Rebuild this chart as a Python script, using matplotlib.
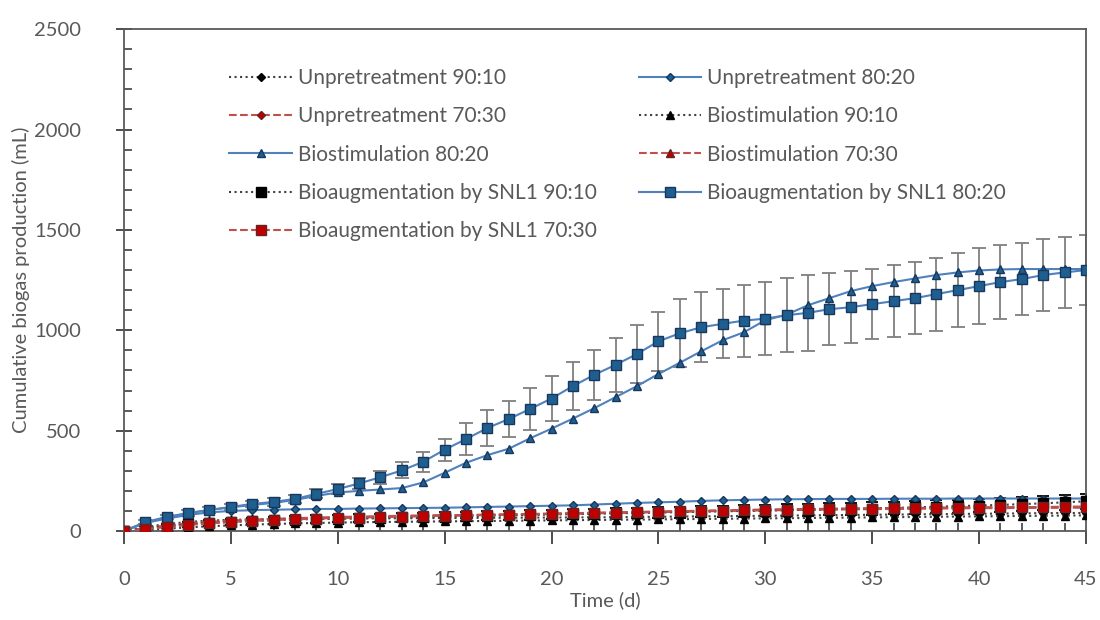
import numpy as np
import matplotlib
matplotlib.use("Agg")
import matplotlib.pyplot as plt
from matplotlib.ticker import MultipleLocator

plt.rcParams['font.family'] = ['Lato', 'DejaVu Sans']

days = list(range(46))

# cumulative biogas (mL), one list per treatment / ratio
unpre_90 = [0, 20, 35, 45, 52, 56, 58, 60, 61, 62, 62, 63, 63, 64, 64, 65, 65, 66, 66, 67, 67, 68,
            68, 69, 70, 71, 72, 73, 74, 75, 76, 77, 78, 79, 80, 81, 82, 83, 84, 85, 86, 87, 88, 89, 90, 90]
unpre_80 = [0, 40, 62, 80, 93, 100, 104, 106, 108, 110, 110, 112, 113, 114, 115, 116, 118, 120, 122,
            124, 126, 128, 132, 136, 140, 143, 146, 150, 153, 155, 157, 158, 159, 160, 160, 160, 161,
            161, 161, 162, 162, 162, 162, 162, 162, 162]
unpre_70 = [0, 15, 28, 38, 46, 52, 57, 61, 64, 67, 70, 72, 74, 76, 78, 79, 80, 82, 83, 85, 87, 89,
            91, 93, 95, 97, 99, 101, 103, 105, 107, 108, 110, 111, 112, 113, 114, 115, 116, 117, 118,
            118, 119, 119, 120, 120]
bios_90 = [0, 5, 12, 18, 24, 28, 32, 35, 38, 40, 42, 44, 45, 46, 47, 48, 49, 50, 51, 52, 53, 54, 55,
           56, 57, 58, 59, 60, 61, 62, 63, 64, 65, 66, 67, 68, 69, 70, 71, 72, 73, 74, 75, 76, 77, 78]
bios_80 = [0, 42, 68, 88, 105, 118, 130, 140, 155, 175, 192, 200, 207, 214, 242, 290, 340, 378, 410,
           462, 510, 560, 612, 667, 722, 782, 838, 895, 950, 990, 1050, 1078, 1125, 1160, 1195, 1220,
           1240, 1258, 1275, 1288, 1298, 1303, 1305, 1305, 1305, 1305]
bios_70 = [0, 12, 24, 34, 42, 48, 53, 57, 61, 64, 67, 69, 71, 73, 75, 77, 78, 80, 81, 83, 85, 86, 88,
           90, 92, 94, 96, 98, 100, 101, 103, 104, 106, 107, 108, 109, 110, 111, 112, 113, 114, 114,
           115, 115, 116, 116]
bioa_90 = [0, 15, 25, 33, 40, 45, 50, 54, 57, 60, 62, 64, 66, 68, 70, 72, 74, 76, 78, 80, 82, 84, 86,
           88, 90, 92, 94, 96, 98, 100, 102, 104, 106, 108, 110, 112, 115, 118, 121, 124, 127, 130,
           134, 138, 143, 148]
bioa_80 = [0, 45, 70, 90, 105, 120, 135, 145, 160, 185, 209, 237, 268, 302, 345, 405, 458, 513, 558,
           608, 660, 722, 778, 828, 882, 945, 985, 1015, 1032, 1048, 1058, 1075, 1087, 1105, 1115,
           1130, 1145, 1160, 1180, 1200, 1220, 1240, 1255, 1275, 1288, 1300]
bioa_70 = [0, 10, 20, 30, 38, 45, 50, 55, 58, 62, 65, 67, 70, 72, 74, 76, 78, 80, 82, 84, 86, 88, 90,
           92, 94, 96, 98, 100, 102, 104, 106, 107, 108, 110, 111, 112, 113, 114, 115, 116, 117, 118,
           119, 120, 121, 122]

# standard deviations
bioa_80_sd = [0, 10, 12, 14, 15, 15, 16, 18, 20, 22, 25, 28, 32, 40, 50, 55, 80, 90, 90, 105, 112,
              118, 125, 135, 145, 148, 170, 175, 172, 180, 180, 185, 188, 180, 178, 175, 178, 180,
              182, 185, 188, 185, 180, 178, 178, 175]
bioa_90_sd = [0, 8, 10, 12, 14, 15, 16, 17, 18, 18, 19, 20, 20, 21, 21, 22, 22, 23, 23, 24, 24, 25,
              25, 26, 26, 27, 27, 28, 28, 29, 29, 30, 30, 30, 31, 31, 32, 32, 33, 33, 34, 34, 35, 35,
              36, 36]

blue_line = '#4f81bd'
blue_face = '#1f5f8f'
blue_edge = '#17375e'
red_line = '#c0504d'
red_face = '#c00000'
red_edge = '#632523'
black_line = '#404040'

series = [
    ("Unpretreatment 90:10", unpre_90, 'D', black_line, ':', 'black', 'black', 4.5),
    ("Unpretreatment 80:20", unpre_80, 'D', blue_line, '-', blue_face, blue_edge, 4.5),
    ("Unpretreatment 70:30", unpre_70, 'D', red_line, '--', red_face, red_edge, 4.5),
    ("Biostimulation 90:10", bios_90, '^', black_line, ':', 'black', 'black', 6),
    ("Biostimulation 80:20", bios_80, '^', blue_line, '-', blue_face, blue_edge, 6),
    ("Biostimulation 70:30", bios_70, '^', red_line, '--', red_face, red_edge, 6),
    ("Bioaugmentation by SNL1 90:10", bioa_90, 's', black_line, ':', 'black', 'black', 6.5),
    ("Bioaugmentation by SNL1 80:20", bioa_80, 's', blue_line, '-', blue_face, blue_edge, 6.5),
    ("Bioaugmentation by SNL1 70:30", bioa_70, 's', red_line, '--', red_face, red_edge, 6.5),
]

fig = plt.figure(figsize=(11, 6.2), dpi=100)
ax = fig.add_axes([0.1127, 0.1435, 0.8745, 0.8095])

ax.errorbar(days, bioa_80, yerr=bioa_80_sd, fmt='none', ecolor='#7f7f7f', elinewidth=1.3,
            capsize=5, capthick=1.3, zorder=2)
ax.errorbar(days, bioa_90, yerr=bioa_90_sd, fmt='none', ecolor='black', elinewidth=1.3,
            capsize=4, capthick=1.3, zorder=2)

lines = []
for label, vals, mk, lc, ls, fc, ec, ms in series:
    ln, = ax.plot(days, vals, linestyle=ls, color=lc, linewidth=1.5, marker=mk, markersize=ms,
                  markerfacecolor=fc, markeredgecolor=ec, markeredgewidth=1.0, label=label, zorder=3)
    lines.append(ln)

ax.set_xlim(0, 45)
ax.set_ylim(0, 2500)
ax.xaxis.set_major_locator(MultipleLocator(5))
ax.xaxis.set_minor_locator(MultipleLocator(1))
ax.yaxis.set_major_locator(MultipleLocator(500))
ax.yaxis.set_minor_locator(MultipleLocator(100))

grey = '#595959'
ax.tick_params(axis='x', which='major', direction='out', length=9, width=1.3, color='#404040',
               labelsize=14.5, labelcolor=grey, pad=20)
ax.tick_params(axis='x', which='minor', direction='in', length=6, width=1.2, color='#404040')
ax.tick_params(axis='y', which='major', direction='inout', length=12, width=1.3, color='#404040',
               labelsize=14.5, labelcolor=grey, pad=25)
ax.tick_params(axis='y', which='minor', direction='in', length=6, width=1.2, color='#404040')
for s in ax.spines.values():
    s.set_color('#595959')
    s.set_linewidth(1.3)

ax.set_xlabel("Time (d)", fontsize=14.5, color=grey, labelpad=2)
ax.set_ylabel("Cumulative biogas production (mL)", fontsize=14.5, color=grey, labelpad=3)

# legend filled row by row: ncol=2 fills by column, so interleave
order = [0, 2, 4, 6, 8, 1, 3, 5, 7]
leg = ax.legend([lines[i] for i in order], [series[i][0] for i in order], ncol=2,
                loc='upper left', bbox_to_anchor=(0.09, 0.96), frameon=False,
                fontsize=15, handlelength=3.0, handletextpad=0.3, columnspacing=2.0,
                labelspacing=0.88)
for t in leg.get_texts():
    t.set_color(grey)

fig.savefig("out.png", dpi=100)
